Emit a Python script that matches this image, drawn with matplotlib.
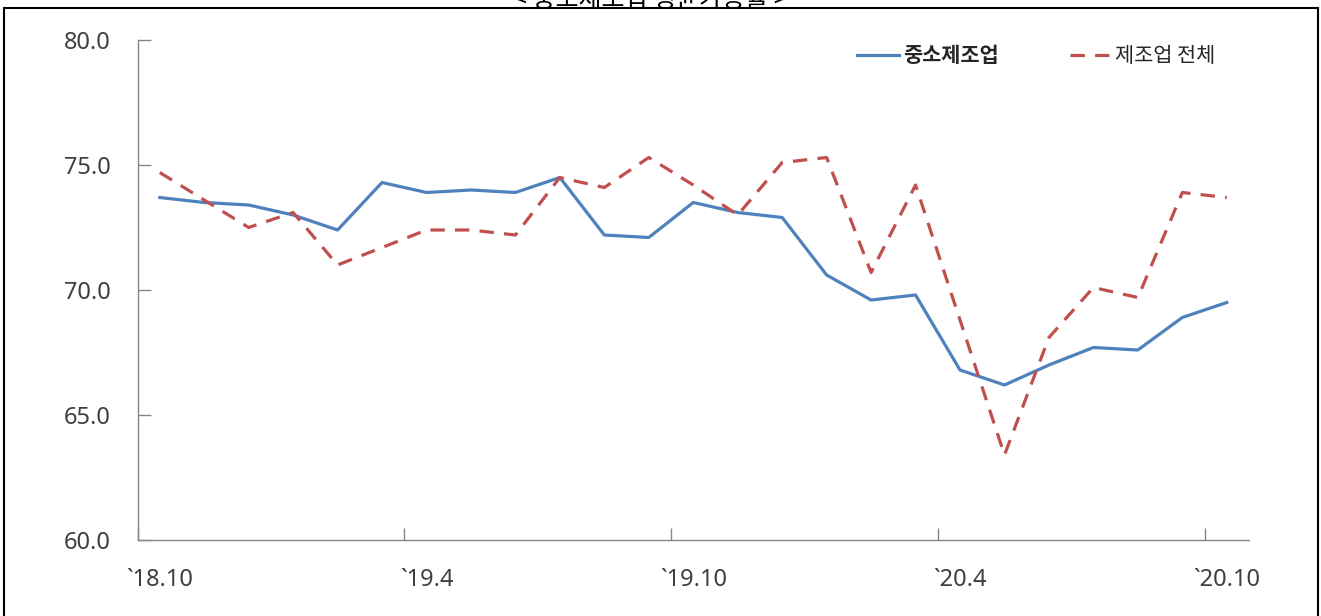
import matplotlib
matplotlib.use('Agg')
import matplotlib.pyplot as plt
from matplotlib.patches import Rectangle
import numpy as np

plt.rcParams['font.family'] = ['Noto Sans CJK KR', 'DejaVu Sans']

# Monthly data '18.10 ~ '20.10
months = ['`18.10', '`18.11', '`18.12', '`19.1', '`19.2', '`19.3', '`19.4', '`19.5',
          '`19.6', '`19.7', '`19.8', '`19.9', '`19.10', '`19.11', '`19.12', '`20.1',
          '`20.2', '`20.3', '`20.4', '`20.5', '`20.6', '`20.7', '`20.8', '`20.9', '`20.10']
sme_mfg = [73.7, 73.5, 73.4, 73.0, 72.4, 74.3, 73.9, 74.0, 73.9, 74.5, 72.2, 72.1, 73.5,
           73.1, 72.9, 70.6, 69.6, 69.8, 66.8, 66.2, 67.0, 67.7, 67.6, 68.9, 69.5]
all_mfg = [74.7, 73.6, 72.5, 73.1, 71.0, 71.7, 72.4, 72.4, 72.2, 74.5, 74.1, 75.3, 74.2,
           73.0, 75.1, 75.3, 70.7, 74.2, 68.8, 63.4, 68.1, 70.1, 69.7, 73.9, 73.7]
series_names = ['중소제조업', '제조업 전체']
yticks = [60.0, 65.0, 70.0, 75.0, 80.0]

W, H = 1321, 616
fig = plt.figure(figsize=(W / 100, H / 100), dpi=100)
ax = fig.add_axes([137.5 / W, 1 - 540 / H, (1249 - 137.5) / W, 500 / H])

x = np.arange(len(months))
ax.plot(x, sme_mfg, color='#4F81BD', lw=2.3, label=series_names[0])
ax.plot(x, all_mfg, color='#C0504D', lw=2.3, ls=(0, (4.5, 3.2)), label=series_names[1])

ax.set_xlim(-0.5, len(months) - 0.5)
ax.set_ylim(60, 80)

# tick marks at category boundaries, labels on every 6th month
ax.set_xticks(np.arange(-0.5, len(months), 6))
ax.set_xticklabels([])
ax.set_xticks(x[::6], minor=True)
ax.set_xticklabels(months[::6], minor=True, family='Noto Sans', fontweight='light')
ax.tick_params(axis='x', which='major', direction='in', length=9, color='#868686', width=1)
ax.tick_params(axis='x', which='minor', length=0, pad=20, labelsize=17, labelcolor='#3f3f3f')

ax.set_yticks(yticks)
ax.set_yticklabels([f'{v:.1f}' for v in yticks], family='Noto Sans', fontweight='light')
ax.tick_params(axis='y', direction='in', length=9, color='#868686', width=1,
               pad=19, labelsize=17, labelcolor='#3f3f3f')

for s in ['top', 'right']:
    ax.spines[s].set_visible(False)
for s in ['left', 'bottom']:
    ax.spines[s].set_color('#868686')
    ax.spines[s].set_linewidth(1)

leg = ax.legend(loc='center right', bbox_to_anchor=(1226 / W, 1 - 56 / H),
                bbox_transform=fig.transFigure, ncol=2, frameon=False, fontsize=15,
                handlelength=2.0, handletextpad=0.2, columnspacing=3.4, borderpad=0)
leg.get_texts()[0].set_fontweight('bold')
for t in leg.get_texts():
    t.set_color('#262626')

# outer frame and clipped title
fig.patches.append(Rectangle((4 / W, -0.05), (1318 - 4) / W, 1.05 - 8 / H,
                             transform=fig.transFigure, fill=False, lw=1.5, ec='black'))
fig.text(650 / W, 1 - 7 / H, '< 중소제조업 평균가동률 >', ha='center', va='baseline',
         fontsize=18, color='black')

fig.savefig('out.png', dpi=100)
